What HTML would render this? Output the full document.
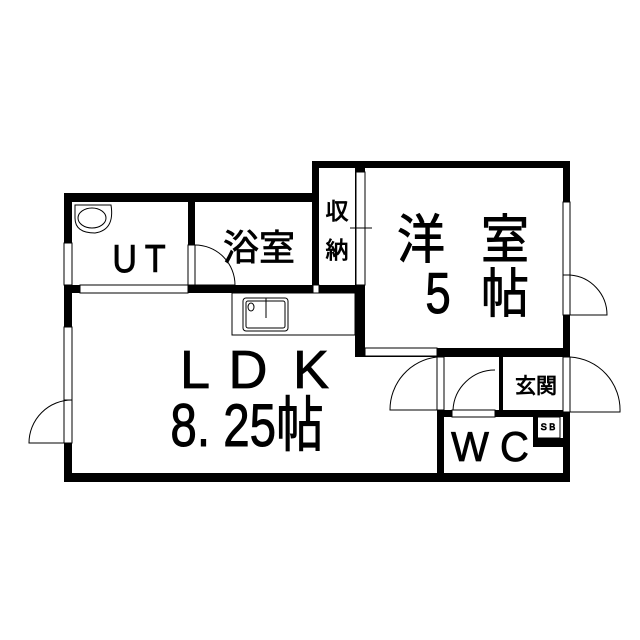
<!DOCTYPE html>
<html><head><meta charset="utf-8"><style>
html,body{margin:0;padding:0;background:#fff}
svg{display:block}
text{font-family:"Liberation Sans","Noto Sans CJK JP",sans-serif;fill:#000;stroke:#000;stroke-width:0.8}
</style></head><body>
<svg width="640" height="640" viewBox="0 0 640 640" xmlns="http://www.w3.org/2000/svg">
<g fill="#000">
<rect x="64" y="193" width="255" height="9"/>
<rect x="312" y="161" width="258" height="7"/>
<rect x="312" y="161" width="7" height="132"/>
<rect x="188" y="193" width="7" height="52"/>
<rect x="64" y="285" width="301" height="8"/>
<rect x="355" y="161" width="10" height="196"/>
<rect x="355" y="348" width="215" height="9"/>
<rect x="563" y="161" width="7" height="321"/>
<rect x="64" y="193" width="8" height="289"/>
<rect x="64" y="473" width="506" height="9"/>
<rect x="437" y="410" width="7" height="72"/>
<rect x="437" y="410" width="133" height="7"/>
<rect x="499" y="357" width="4" height="53"/>
<rect x="533" y="410" width="5" height="37"/>
<rect x="533" y="438" width="37" height="9"/>
</g>
<g fill="#fff" stroke="#000" stroke-width="1">
<rect x="64" y="243" width="8" height="42"/>
<rect x="64" y="327" width="8" height="73"/>
<rect x="64" y="400" width="8" height="43"/>
<rect x="356" y="172" width="9" height="113"/>
<rect x="563" y="202" width="7" height="73"/>
<rect x="563" y="275" width="7" height="40"/>
<rect x="563" y="357" width="7" height="55"/>
<rect x="188" y="245" width="7" height="40"/>
<rect x="80" y="285" width="108" height="8"/>
<rect x="365" y="348" width="72" height="8"/>
<rect x="437" y="357" width="7" height="53"/>
<rect x="452" y="410" width="43" height="7"/>
<rect x="313" y="285" width="6" height="8"/>
</g>
<g fill="none" stroke="#000" stroke-width="1">
<path d="M72 400 A43 43 0 0 0 29 443 L72 443"/>
<path d="M570 275 A40 40 0 0 1 607 315 L570 315"/>
<path d="M570 357 A53 53 0 0 1 620 412 L570 412"/>
<path d="M437 357 A53 53 0 0 0 390 410 L437 410"/>
<path d="M495 370 A42 42 0 0 0 453 410"/>
<path d="M195 245 A40 40 0 0 1 235 285 L195 285"/>
<rect x="232" y="293" width="123" height="42"/>
<rect x="243" y="298" width="45" height="33" rx="3"/>
<rect x="246" y="301" width="39" height="27" rx="2"/>
<ellipse cx="251" cy="307" rx="3" ry="4"/>
<line x1="266" y1="298" x2="266" y2="318"/>
<path d="M75 205 L111 205 Q115 230 95 233 Q75 233 75 218 Z"/>
<ellipse cx="92" cy="218" rx="14" ry="10"/>
<rect x="537" y="417" width="23" height="21"/>
<line x1="350" y1="228" x2="372" y2="228"/>
</g>
<text transform="translate(143,272) scale(1,1.15)" font-size="34" text-anchor="middle" letter-spacing="8">UT</text>
<text x="259" y="260" font-size="36" text-anchor="middle">浴室</text>
<text x="337" y="219" font-size="23" text-anchor="middle">収</text>
<text x="337" y="258" font-size="23" text-anchor="middle">納</text>
<text transform="translate(421,258) scale(1,1.1)" font-size="48" text-anchor="middle">洋</text>
<text transform="translate(505,258) scale(1,1.1)" font-size="48" text-anchor="middle">室</text>
<text transform="translate(438,313) scale(0.95,1.2)" font-size="48" text-anchor="middle">5</text>
<text transform="translate(505,312) scale(1,1.1)" font-size="48" text-anchor="middle">帖</text>
<text x="195" y="388" font-size="54" text-anchor="middle">L</text>
<text x="248" y="388" font-size="54" text-anchor="middle">D</text>
<text x="311" y="388" font-size="54" text-anchor="middle">K</text>
<text transform="translate(247,446) scale(0.95,1.2)" font-size="50" text-anchor="middle">8. 25帖</text>
<text x="536" y="393" font-size="21" text-anchor="middle">玄関</text>
<text transform="translate(490,461) scale(1,1.05)" font-size="40" text-anchor="middle">W C</text>
<text x="548" y="430" font-size="9" text-anchor="middle" stroke-width="0">S B</text>
</svg>
</body></html>
